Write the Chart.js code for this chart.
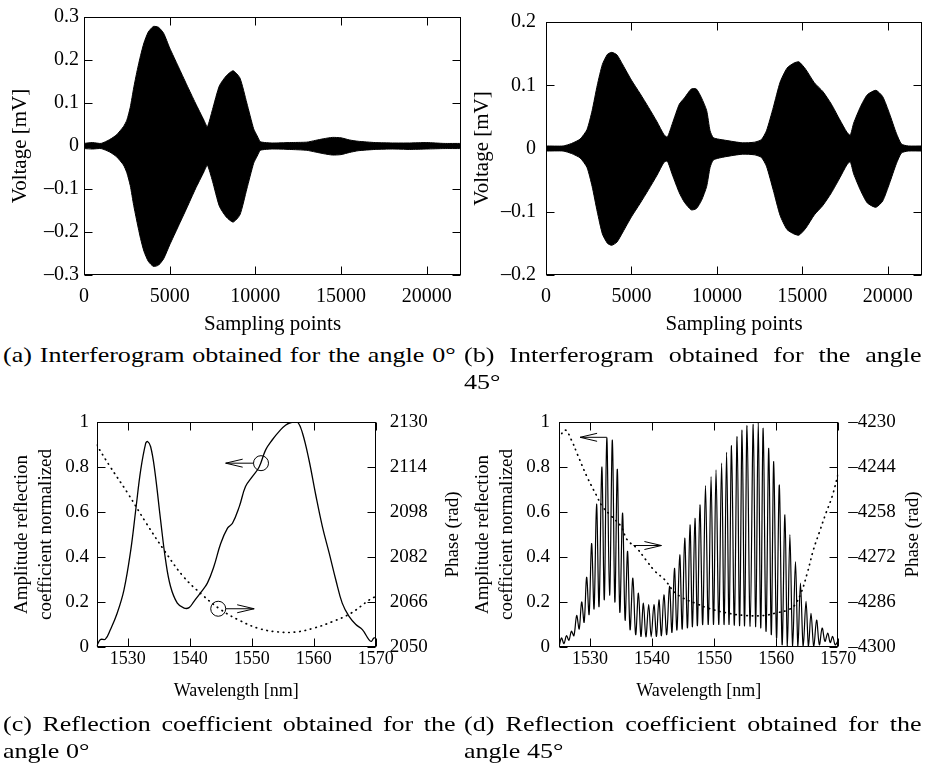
<!DOCTYPE html>
<html>
<head>
<meta charset="utf-8">
<script src="https://cdn.jsdelivr.net/npm/chart.js@4.4.1/dist/chart.umd.min.js"></script>
<style>
body { margin: 0; background: #fff; width: 927px; height: 772px; position: relative; overflow: hidden; }
canvas { position: absolute; }
.cap { position: absolute; font-family: "Liberation Serif", "Times New Roman", serif; font-size: 21px; line-height: 27px; color: #000; transform: scaleX(1.24); transform-origin: 0 0; }
.j { text-align: justify; text-align-last: justify; white-space: nowrap; }
</style>
</head>
<body>
<canvas id="ca" width="465" height="340" style="left:0;top:0"></canvas>
<canvas id="cb" width="462" height="340" style="left:465px;top:0"></canvas>
<canvas id="cc" width="470" height="317" style="left:0;top:395px"></canvas>
<canvas id="cd" width="462" height="317" style="left:465px;top:395px"></canvas>

<div class="cap" style="left:3px;top:342px;width:365px"><div class="j">(a) Interferogram obtained for the angle 0°</div></div>
<div class="cap" style="left:464px;top:342px;width:369px"><div class="j">(b) Interferogram obtained for the angle</div><div>45°</div></div>
<div class="cap" style="left:3px;top:711px;width:365px"><div class="j">(c) Reflection coefficient obtained for the</div><div>angle 0°</div></div>
<div class="cap" style="left:464px;top:711px;width:369px"><div class="j">(d) Reflection coefficient obtained for the</div><div>angle 45°</div></div>

<script>
// (a) interferogram 0 deg - envelope of the signal
const aX = [0,500,1000,1500,1900,2300,2500,2700,2900,3100,3300,3500,3750,4050,4350,4650,5000,5500,6000,6500,7000,7200,7500,7900,8300,8700,9100,9500,9900,10100,10300,11000,12000,13000,13500,14000,14500,15000,15500,16000,17000,18000,19000,20000,21000,22000];
const aUp = [0.006,0.008,0.006,0.015,0.026,0.045,0.06,0.09,0.135,0.175,0.21,0.24,0.265,0.278,0.276,0.262,0.228,0.185,0.142,0.1,0.06,0.045,0.085,0.14,0.163,0.175,0.158,0.1,0.04,0.024,0.01,0.007,0.008,0.009,0.013,0.017,0.02,0.019,0.014,0.011,0.008,0.007,0.007,0.008,0.006,0.006];
const aLo = [-0.006,-0.007,-0.006,-0.014,-0.025,-0.044,-0.062,-0.092,-0.138,-0.178,-0.215,-0.245,-0.268,-0.28,-0.277,-0.262,-0.23,-0.187,-0.144,-0.1,-0.06,-0.045,-0.082,-0.14,-0.165,-0.177,-0.16,-0.1,-0.04,-0.024,-0.01,-0.007,-0.008,-0.01,-0.014,-0.018,-0.021,-0.02,-0.015,-0.011,-0.008,-0.007,-0.008,-0.007,-0.006,-0.006];

// (b) interferogram 45 deg
const bX = [0,1000,1500,2000,2400,2700,3000,3300,3600,3850,4150,4500,5000,5500,6000,6500,6900,7100,7400,7800,8100,8500,8800,9100,9400,9600,9800,10500,11500,12200,12600,12900,13300,13700,14100,14500,14800,15200,15700,16200,16700,17200,17600,17800,18000,18400,18800,19300,19700,20100,20500,20800,21200,22000];
const bUp = [0.004,0.004,0.008,0.015,0.03,0.06,0.1,0.133,0.149,0.152,0.148,0.132,0.108,0.087,0.065,0.042,0.022,0.018,0.04,0.07,0.08,0.094,0.094,0.08,0.06,0.028,0.017,0.013,0.009,0.01,0.014,0.028,0.065,0.105,0.127,0.135,0.137,0.125,0.104,0.09,0.07,0.045,0.026,0.021,0.04,0.066,0.085,0.092,0.082,0.055,0.024,0.007,0.004,0.004];
const bLo = [-0.004,-0.004,-0.008,-0.015,-0.03,-0.06,-0.1,-0.135,-0.15,-0.153,-0.148,-0.132,-0.108,-0.087,-0.065,-0.042,-0.022,-0.02,-0.042,-0.07,-0.085,-0.097,-0.095,-0.082,-0.06,-0.03,-0.018,-0.013,-0.009,-0.01,-0.014,-0.028,-0.066,-0.106,-0.128,-0.135,-0.137,-0.126,-0.105,-0.09,-0.07,-0.046,-0.026,-0.021,-0.04,-0.066,-0.086,-0.093,-0.083,-0.055,-0.024,-0.007,-0.004,-0.004];

const sampTicks = [0,5000,10000,15000,20000];
const aTicksY = [-0.3,-0.2,-0.1,0,0.1,0.2,0.3];
const bTicksY = [-0.2,-0.1,0,0.1,0.2];

// (c) reflection coefficient 0 deg
const cX = [1525.0,1525.6,1526.4,1527.2,1528.3,1529.4,1530.5,1531.3,1532.1,1532.9,1533.2,1533.7,1534.35,1535.3,1536.1,1536.9,1538.0,1539.1,1539.9,1540.7,1541.8,1542.85,1543.9,1545.0,1546.1,1546.9,1548.0,1549.0,1550.1,1551.2,1552.25,1553.3,1554.4,1555.5,1556.6,1557.4,1558.2,1559.25,1560.3,1561.4,1562.5,1563.55,1564.6,1565.7,1566.8,1567.85,1568.9,1569.3,1569.7,1570.0];
const cAmp = [0.003,0.033,0.035,0.077,0.15,0.254,0.432,0.61,0.787,0.905,0.913,0.89,0.787,0.565,0.388,0.27,0.195,0.173,0.175,0.203,0.243,0.284,0.358,0.46,0.528,0.55,0.624,0.713,0.757,0.80,0.876,0.92,0.957,0.987,1.0,1.0,0.95,0.83,0.68,0.535,0.417,0.3,0.195,0.136,0.1,0.077,0.033,0.025,0.04,0.04];
const cPhX = [1525,1527,1530,1533,1536,1539,1542,1545,1548,1551,1554,1557,1560,1563,1566,1569,1570];
const cPh = [2121.8,2114.7,2104.7,2094,2084,2075,2068.6,2063.3,2059.5,2056.7,2055.4,2055.3,2056.7,2059,2062,2066.8,2068];
const cTicksR = [2050,2066,2082,2098,2114,2130];

// (d) reflection coefficient 45 deg
const dX = [1525.0,1525.4,1525.8,1526.2,1526.6,1527.0,1527.4,1527.85,1528.25,1528.65,1529.05,1529.45,1529.85,1530.25,1530.65,1531.05,1531.45,1531.9,1532.3,1532.7,1533.15,1533.6,1534.0,1534.4,1534.8,1535.25,1535.65,1536.05,1536.45,1536.9,1537.35,1537.8,1538.2,1538.6,1539.0,1539.45,1539.85,1540.3,1540.7,1541.1,1541.5,1541.9,1542.35,1542.8,1543.2,1543.6,1544.0,1544.45,1544.85,1545.25,1545.7,1546.1,1546.5,1546.9,1547.3,1547.7,1548.15,1548.6,1549.05,1549.5,1549.9,1550.3,1550.75,1551.2,1551.6,1552.0,1552.4,1552.8,1553.25,1553.7,1554.1,1554.5,1554.9,1555.3,1555.8,1556.3,1556.7,1557.1,1557.5,1557.9,1558.35,1558.8,1559.2,1559.6,1560.05,1560.5,1560.95,1561.4,1561.8,1562.2,1562.65,1563.1,1563.5,1563.9,1564.35,1564.8,1565.2,1565.6,1566.05,1566.5,1566.95,1567.4,1567.85,1568.3,1568.7,1569.1,1569.5,1570.0];
const dAmp = [0.00,0.04,0.015,0.05,0.03,0.07,0.05,0.14,0.08,0.20,0.11,0.31,0.145,0.46,0.17,0.635,0.18,0.80,0.21,0.93,0.23,0.92,0.2,0.79,0.155,0.595,0.12,0.425,0.077,0.306,0.055,0.24,0.047,0.195,0.045,0.188,0.045,0.188,0.047,0.21,0.05,0.232,0.055,0.27,0.065,0.35,0.075,0.41,0.08,0.484,0.085,0.543,0.09,0.572,0.095,0.632,0.1,0.717,0.1,0.757,0.1,0.787,0.1,0.817,0.1,0.865,0.1,0.895,0.097,0.935,0.095,0.964,0.094,0.984,0.092,0.99,0.09,1.0,0.085,0.972,0.07,0.883,0.055,0.824,0.04,0.72,0.01,0.587,0.0,0.5,0.0,0.38,0.0,0.284,0.0,0.203,0.0,0.15,0.0,0.12,0.01,0.084,0.025,0.062,0.02,0.047,0.01,0.03];
const dPhX = [1525,1526,1527,1528,1529.5,1531,1532,1533.5,1535,1536,1537.5,1539,1540.5,1542,1543.5,1545,1547,1549,1552,1555,1558,1560,1562,1563,1564,1565,1566,1567,1568,1569,1570];
const dPh = [-4235.1,-4232.5,-4235.6,-4240.2,-4247,-4252.7,-4256.3,-4259.4,-4262.5,-4266.7,-4269.2,-4272.9,-4276.5,-4279,-4282.7,-4284.8,-4286.4,-4287.9,-4289.4,-4290.2,-4290.2,-4289.4,-4288.4,-4286.9,-4283.2,-4277,-4269.7,-4264,-4258.4,-4253.2,-4246];
const dTicksR = [-4300,-4286,-4272,-4258,-4244,-4230];

const wlTicks = [1530,1540,1550,1560,1570];
const ampTicks = [0,0.2,0.4,0.6,0.8,1];

const serif = '"Liberation Serif", "Times New Roman", serif';
Chart.defaults.font.family = serif;
Chart.defaults.color = '#000';

const fmt = v => v < 0 ? '\u2013' + (-v) : String(v);
const pts = (xs, ys) => xs.map((x, i) => ({x: x, y: ys[i]}));
const fix = arr => s => { s.ticks = arr.map(v => ({value: v})); };

// frame, inward tick marks, arrows and circles (gnuplot look)
const frame = {
  id: 'frame',
  afterDatasetsDraw(chart, args, o) {
    const {ctx, chartArea: a, scales} = chart;
    const L = Math.round(a.left) + 0.5, R = Math.round(a.right) - 0.5;
    const T = Math.round(a.top) + 0.5, B = Math.round(a.bottom) - 0.5;
    const tl = 8;
    ctx.save();
    ctx.strokeStyle = '#000';
    ctx.lineWidth = 1;
    ctx.strokeRect(L, T, R - L, B - T);
    ctx.beginPath();
    scales.x.ticks.forEach(t => {
      const p = Math.round(scales.x.getPixelForValue(t.value)) + 0.5;
      ctx.moveTo(p, B); ctx.lineTo(p, B - tl);
      ctx.moveTo(p, T); ctx.lineTo(p, T + tl);
    });
    scales.y.ticks.forEach(t => {
      const p = Math.round(scales.y.getPixelForValue(t.value)) + 0.5;
      ctx.moveTo(L, p); ctx.lineTo(L + tl, p);
      if (!scales.y2) { ctx.moveTo(R, p); ctx.lineTo(R - tl, p); }
    });
    if (scales.y2) {
      scales.y2.ticks.forEach(t => {
        const p = Math.round(scales.y2.getPixelForValue(t.value)) + 0.5;
        ctx.moveTo(R, p); ctx.lineTo(R - tl, p);
      });
    }
    ctx.stroke();

    (o.marks || []).forEach(m => {
      const y = scales.y.getPixelForValue(m.y);
      ctx.beginPath();
      if (m.type === 'circle') {
        ctx.arc(scales.x.getPixelForValue(m.x), y, m.r, 0, Math.PI * 2);
      } else {
        const x1 = scales.x.getPixelForValue(m.from);
        const x2 = scales.x.getPixelForValue(m.to);
        const dir = x2 > x1 ? 1 : -1;
        ctx.moveTo(x1 + dir * (m.gap || 0), y);
        ctx.lineTo(x2, y);
        ctx.moveTo(x2 - dir * 17, y - 4);
        ctx.lineTo(x2, y);
        ctx.lineTo(x2 - dir * 17, y + 4);
      }
      ctx.stroke();
    });

    if (o.rightTitle) {
      ctx.translate(a.right + o.rightTitleOffset, (a.top + a.bottom) / 2);
      ctx.rotate(-Math.PI / 2);
      ctx.font = '19px ' + serif;
      ctx.fillStyle = '#000';
      ctx.textAlign = 'center';
      ctx.textBaseline = 'middle';
      ctx.fillText(o.rightTitle, 0, 0);
    }
    ctx.restore();
  }
};

function xAxis(min, max, ticks, title, o) {
  return {
    type: 'linear', min: min, max: max,
    afterBuildTicks: fix(ticks),
    afterFit: s => { s.height = o.h; },
    grid: {display: false, drawTicks: false},
    border: {display: false},
    ticks: {font: {size: o.tick}, padding: o.tickPad, callback: fmt, maxRotation: 0, autoSkip: false},
    title: {display: true, text: title, font: {size: o.title}, padding: {top: 0, bottom: o.titlePad}}
  };
}
function yAxis(pos, min, max, ticks, title, o) {
  return {
    type: 'linear', position: pos, min: min, max: max,
    afterBuildTicks: fix(ticks),
    afterFit: s => { s.width = o.w; },
    grid: {display: false, drawTicks: false},
    border: {display: false},
    ticks: {font: {size: o.tick}, padding: o.tickPad, callback: fmt, autoSkip: false},
    title: {display: !!title, text: title, font: {size: o.title, lineHeight: 1.24}, padding: {top: o.titlePad, bottom: 0}}
  };
}

const common = {
  responsive: false,
  animation: false,
  events: [],
  plugins: {legend: {display: false}, tooltip: {enabled: false}}
};

function envelopeChart(id, xs, up, lo, yMin, yMax, yTicks, pad, yw, ytp, ytitle) {
  new Chart(document.getElementById(id), {
    type: 'line',
    data: {
      datasets: [
        {data: pts(xs, up), borderColor: '#000', borderWidth: 1, pointRadius: 0, tension: 0.2, fill: false},
        {data: pts(xs, lo), borderColor: '#000', borderWidth: 1, pointRadius: 0, tension: 0.2, fill: '-1', backgroundColor: '#000'}
      ]
    },
    options: Object.assign({}, common, {
      layout: {padding: pad},
      scales: {
        x: xAxis(0, 22000, sampTicks, 'Sampling points', {h: 65, tick: 20, tickPad: 10, title: 21, titlePad: 3}),
        y: yAxis('left', yMin, yMax, yTicks, 'Voltage [mV]', {w: yw, tick: 20, tickPad: ytp, title: 21, titlePad: ytitle})
      },
      plugins: Object.assign({}, common.plugins, {frame: {}})
    }),
    plugins: [frame]
  });
}

envelopeChart('ca', aX, aUp, aLo, -0.3, 0.3, aTicksY, {top: 14, left: 0, right: 4, bottom: 0}, 84, 5, 7);
envelopeChart('cb', bX, bUp, bLo, -0.2, 0.2, bTicksY, {top: 14, left: 0, right: 5, bottom: 0}, 81, 10, 4);

function reflChart(id, amp, phX, ph, rMin, rMax, rTicks, o) {
  new Chart(document.getElementById(id), {
    type: 'line',
    data: {
      datasets: [
        {data: pts(o.ampX, amp), yAxisID: 'y', borderColor: '#000', borderWidth: o.lw, pointRadius: 0, tension: o.tension, fill: false},
        {data: pts(phX, ph), yAxisID: 'y2', borderColor: '#000', borderWidth: 1.7, borderDash: [0.5, 5], borderCapStyle: 'round', pointRadius: 0, tension: 0.4, fill: false}
      ]
    },
    options: Object.assign({}, common, {
      layout: {padding: {top: 27, left: 0, right: 0, bottom: 0}},
      scales: {
        x: xAxis(1525, 1570, wlTicks, 'Wavelength [nm]', {h: 65, tick: 18, tickPad: 1, title: 18, titlePad: 9.7}),
        y: yAxis('left', 0, 1, ampTicks, ['Amplitude reflection', 'coefficient normalized'], {w: o.lw2, tick: 19, tickPad: o.ltp, title: 19, titlePad: o.ltitle}),
        y2: yAxis('right', rMin, rMax, rTicks, '', {w: o.rw, tick: 19, tickPad: o.rtp, title: 19, titlePad: 0})
      },
      plugins: Object.assign({}, common.plugins, {
        frame: {marks: o.marks, rightTitle: 'Phase (rad)', rightTitleOffset: o.rto}
      })
    }),
    plugins: [frame]
  });
}

reflChart('cc', cAmp, cPhX, cPh, 2050, 2130, cTicksR, {
  ampX: cX, lw: 1.3, tension: 0.4, lw2: 96.7, ltp: 7.7, ltitle: 10.7, rw: 94.3, rtp: 14, rto: 77.3,
  marks: [
    {type: 'circle', x: 1551.5, y: 0.817, r: 7.5},
    {type: 'arrow', from: 1551.5, to: 1545.8, y: 0.817, gap: 7.5},
    {type: 'circle', x: 1544.6, y: 0.17, r: 7.5},
    {type: 'arrow', from: 1544.6, to: 1550.4, y: 0.17, gap: 7.5}
  ]
});

reflChart('cd', dAmp, dPhX, dPh, -4300, -4230, dTicksR, {
  ampX: dX, lw: 1.2, tension: 0.35, lw2: 94, ltp: 9, ltitle: 6.5, rw: 88.7, rtp: 10, rto: 75,
  marks: [
    {type: 'arrow', from: 1532.7, to: 1528.4, y: 0.932},
    {type: 'arrow', from: 1537, to: 1541.5, y: 0.451}
  ]
});
</script>
</body>
</html>
